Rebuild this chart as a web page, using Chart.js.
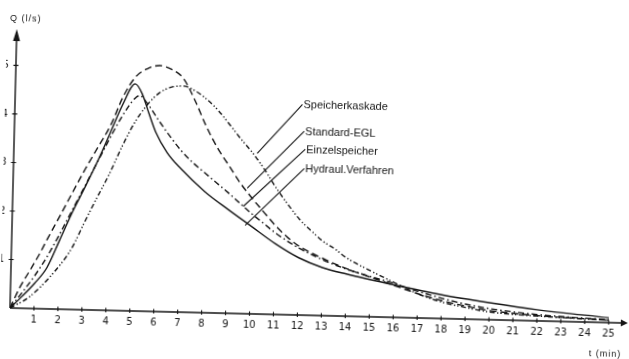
<!DOCTYPE html>
<html>
<head>
<meta charset="utf-8">
<script src="https://cdn.jsdelivr.net/npm/chart.js@4.4.1/dist/chart.umd.min.js"></script>
<style>
  html, body { margin: 0; padding: 0; background: #fff; overflow: hidden; }
  /* the scan is turned a little clockwise, so the whole canvas is too */
  #wrap { position: absolute; left: 0; top: 0; width: 629px; height: 359px;
          transform: rotate(1.4deg); transform-origin: 10px 308px; }
</style>
</head>
<body>
<div id="wrap"><canvas id="chart" width="629" height="359"></canvas></div>
<script>
// Abfluss Q (l/s) over time t (min)
const tHydraul = [0, 0.5, 1, 1.5, 2, 2.5, 3, 3.5, 4, 4.5, 5, 5.3, 5.6, 5.9, 6.4, 7, 8, 9, 10, 11, 12, 13, 14, 16, 18, 20, 22, 25];
const qHydraul = [0, 0.25, 0.52, 0.85, 1.42, 2.0, 2.52, 3.06, 3.65, 4.25, 4.68, 4.48, 4.08, 3.7, 3.28, 2.95, 2.5, 2.14, 1.8, 1.46, 1.18, 0.99, 0.87, 0.67, 0.49, 0.35, 0.23, 0.1];

const tStandard = [0, 0.4, 0.8, 1.2, 1.5, 2, 2.5, 3, 3.5, 4, 4.5, 5, 5.5, 6, 6.5, 7, 7.5, 8, 8.5, 9, 9.5, 10, 10.5, 11, 11.5, 12, 13, 14, 15, 16, 17, 18, 19, 20, 22, 25];
const qStandard = [0, 0.44, 0.79, 1.15, 1.45, 1.93, 2.42, 2.9, 3.35, 3.8, 4.4, 4.82, 5.0, 5.07, 5.0, 4.82, 4.38, 3.85, 3.4, 3.04, 2.68, 2.38, 2.1, 1.83, 1.6, 1.42, 1.18, 0.98, 0.82, 0.66, 0.5, 0.37, 0.27, 0.19, 0.11, 0.05];

const tEinzel = [0, 0.5, 1, 1.5, 2, 2.5, 3, 3.5, 4, 4.5, 5, 5.2, 5.5, 6, 6.5, 7, 7.5, 8, 8.5, 9, 9.5, 10, 10.5, 11, 12, 13, 14, 15, 16, 17, 18, 19, 20, 22, 25];
const qEinzel = [0, 0.33, 0.68, 1.08, 1.55, 2.05, 2.55, 3.05, 3.55, 4.02, 4.38, 4.44, 4.3, 3.95, 3.62, 3.32, 3.08, 2.88, 2.68, 2.48, 2.27, 2.06, 1.87, 1.68, 1.38, 1.15, 0.97, 0.83, 0.7, 0.55, 0.42, 0.31, 0.23, 0.13, 0.06];

const tKaskade = [0, 0.8, 1.8, 2.5, 3, 3.5, 4, 4.5, 5, 5.5, 6, 6.5, 7, 7.5, 8, 8.5, 9, 9.5, 10, 10.5, 11, 11.5, 12, 12.5, 13, 13.5, 14, 15, 16, 17, 18, 19, 20, 22, 25];
const qKaskade = [0, 0.24, 0.76, 1.25, 1.78, 2.3, 2.8, 3.37, 3.87, 4.24, 4.5, 4.63, 4.66, 4.57, 4.4, 4.17, 3.88, 3.58, 3.3, 2.97, 2.6, 2.27, 1.97, 1.74, 1.53, 1.38, 1.2, 0.95, 0.72, 0.5, 0.34, 0.24, 0.16, 0.1, 0.05];

const tTicks = [1, 2, 3, 4, 5, 6, 7, 8, 9, 10, 11, 12, 13, 14, 15, 16, 17, 18, 19, 20, 21, 22, 23, 24, 25];
const qTicks = [1, 2, 3, 4, 5];
const tMax = 25.8;
const qMax = 5.75;

// labels with their leader lines (from label corner down to the curve)
const noteNames = ['Speicherkaskade', 'Standard-EGL', 'Einzelspeicher', 'Hydraul.Verfahren'];
const noteFrom = [[12.0, 4.34], [12.1, 3.79], [12.16, 3.42], [12.14, 3.02]];
const noteTo = [[10.16, 3.31], [9.78, 2.59], [9.63, 2.21], [9.73, 1.82]];

const ink = '#151515';
const tickFont = { family: '"Liberation Sans Narrow", "DejaVu Sans Condensed", "Liberation Sans", sans-serif', size: 11 };

function series(label, ts, qs, dash) {
  return {
    label,
    data: ts.map((t, i) => ({ x: t, y: qs[i] })),
    borderColor: ink,
    borderWidth: 1.4,
    borderDash: dash,
    cubicInterpolationMode: 'monotone',
    pointRadius: 0,
    fill: false
  };
}

const drawAxes = {
  id: 'drawAxes',
  afterDatasetsDraw(chart) {
    const { ctx, scales: { x, y } } = chart;
    const x0 = x.getPixelForValue(0);
    const y0 = y.getPixelForValue(0);
    const xEnd = x.getPixelForValue(tMax);
    const yEnd = y.getPixelForValue(qMax);

    ctx.save();
    ctx.strokeStyle = ink;
    ctx.fillStyle = ink;
    ctx.lineWidth = 1.4;

    ctx.beginPath();
    ctx.moveTo(x0, y0); ctx.lineTo(xEnd - 4, y0);
    ctx.moveTo(x0, y0); ctx.lineTo(x0, yEnd + 6);
    ctx.stroke();

    // arrow heads
    ctx.beginPath();
    ctx.moveTo(xEnd, y0); ctx.lineTo(xEnd - 7, y0 - 3.5); ctx.lineTo(xEnd - 7, y0 + 3.5);
    ctx.closePath(); ctx.fill();
    ctx.beginPath();
    ctx.moveTo(x0, yEnd); ctx.lineTo(x0 - 3.5, yEnd + 12); ctx.lineTo(x0 + 3.5, yEnd + 12);
    ctx.closePath(); ctx.fill();

    // small tick crosses
    ctx.lineWidth = 1.1;
    ctx.beginPath();
    tTicks.forEach(v => {
      const px = x.getPixelForValue(v);
      ctx.moveTo(px, y0 - 2.5); ctx.lineTo(px, y0 + 2);
    });
    qTicks.forEach(v => {
      const py = y.getPixelForValue(v);
      ctx.moveTo(x0 - 2.5, py); ctx.lineTo(x0 + 2.5, py);
    });
    ctx.stroke();

    // axis titles
    ctx.font = '9px "Liberation Sans", sans-serif';
    ctx.letterSpacing = '1px';
    ctx.textBaseline = 'middle';
    ctx.textAlign = 'left';
    ctx.fillText('Q (l/s)', x0 - 7, yEnd - 10);
    ctx.textAlign = 'center';
    ctx.fillText('t (min)', x0 + 596, y0 + 32);
    ctx.letterSpacing = '0px';

    // leader lines and curve names
    ctx.lineWidth = 1.1;
    ctx.font = '11px "Liberation Sans", sans-serif';
    ctx.textAlign = 'left';
    noteNames.forEach((name, i) => {
      const fx = x.getPixelForValue(noteFrom[i][0]);
      const fy = y.getPixelForValue(noteFrom[i][1]);
      const tx = x.getPixelForValue(noteTo[i][0]);
      const ty = y.getPixelForValue(noteTo[i][1]);
      ctx.beginPath();
      ctx.moveTo(fx, fy); ctx.lineTo(tx, ty);
      ctx.stroke();
      ctx.fillText(name, fx + 1, fy + 1);
    });
    ctx.restore();
  }
};

new Chart(document.getElementById('chart'), {
  type: 'line',
  data: {
    datasets: [
      series('Hydraul.Verfahren', tHydraul, qHydraul, []),
      series('Standard-EGL', tStandard, qStandard, [7, 4]),
      series('Einzelspeicher', tEinzel, qEinzel, [6, 3, 1.5, 3]),
      series('Speicherkaskade', tKaskade, qKaskade, [5, 2.5, 1.3, 2, 1.3, 2.5])
    ]
  },
  options: {
    responsive: false,
    animation: false,
    devicePixelRatio: 1,
    layout: { padding: { left: 0, right: 1, top: 29, bottom: 0 } },
    plugins: { legend: { display: false }, tooltip: { enabled: false } },
    scales: {
      x: {
        type: 'linear',
        min: 0,
        max: tMax,
        grid: { display: false, drawTicks: false },
        border: { display: false },
        afterBuildTicks: s => { s.ticks = tTicks.map(v => ({ value: v })); },
        afterFit: s => { s.height = 51; },
        ticks: { padding: 5, maxRotation: 0, autoSkip: false, color: ink, font: tickFont }
      },
      y: {
        min: 0,
        max: qMax,
        grid: { display: false, drawTicks: false },
        border: { display: false },
        afterBuildTicks: s => { s.ticks = qTicks.map(v => ({ value: v })); },
        afterFit: s => { s.width = 10; },
        ticks: { padding: 7, color: ink, font: tickFont }
      }
    }
  },
  plugins: [drawAxes]
});
</script>
</body>
</html>
